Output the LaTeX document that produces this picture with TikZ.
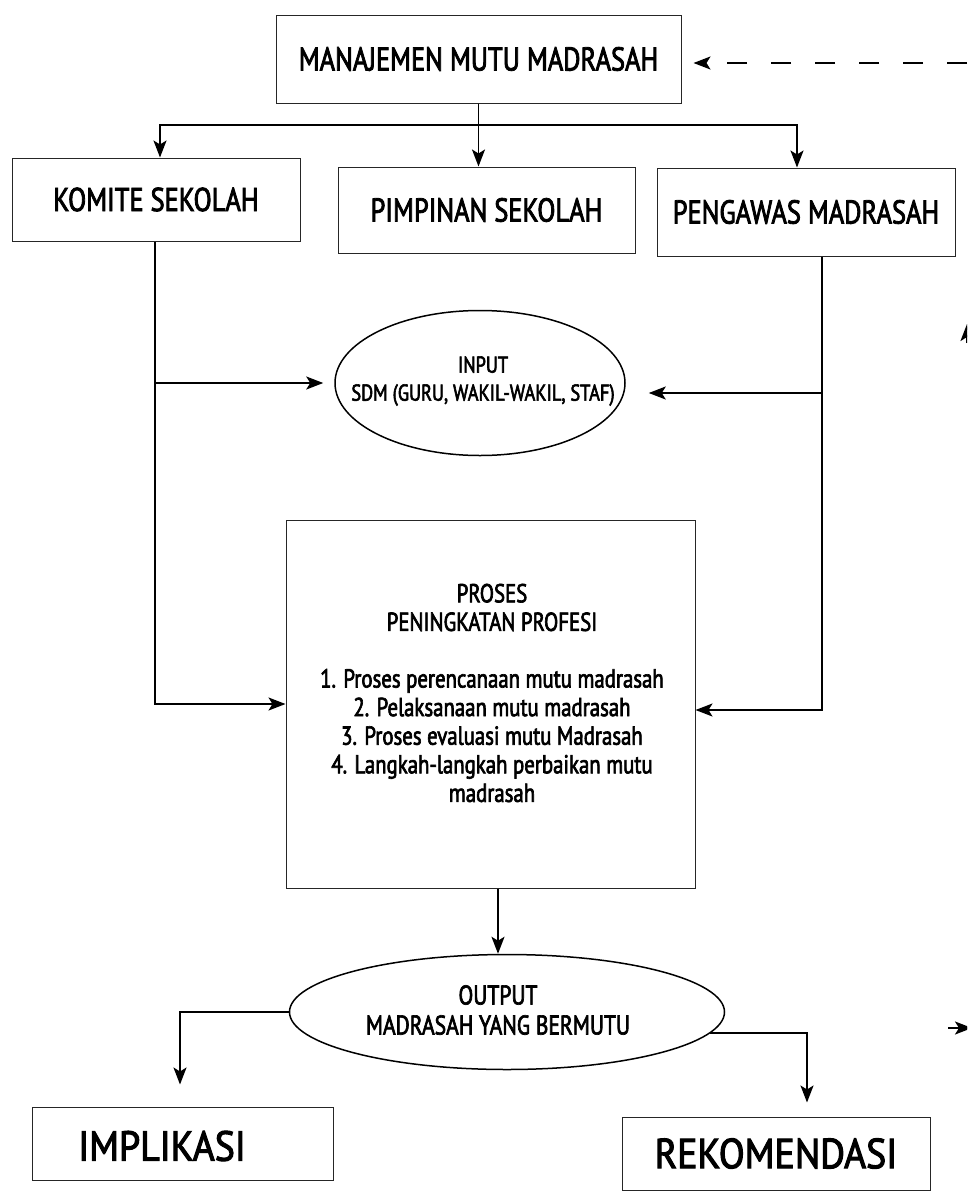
\documentclass[tikz,border=0pt]{standalone}
\usepackage{fontspec}
\setmainfont{PT Sans}
\newfontfamily\cf[FakeStretch=0.8,FakeBold=2.5]{PT Sans}
\newfontfamily\wf[FakeStretch=0.9,FakeBold=2.5]{PT Sans}
\usetikzlibrary{arrows.meta,shapes.geometric,calc}

\begin{document}
\begin{tikzpicture}[x=1pt,y=-1pt,
  box/.style={draw=black!85,line width=1pt,rectangle,inner sep=0pt},
  oval/.style={draw=black,line width=1.5pt,ellipse,inner sep=0pt},
  arr/.style={line width=1.9pt,-{Stealth[length=17pt,width=13pt,inset=4pt]}},
  big/.style={font=\cf\fontsize{33}{36}\selectfont},
  huge/.style={font=\wf\fontsize{42}{44}\selectfont},
]
\fill[white] (0,0) rectangle (967,1194);
\useasboundingbox (0,0) rectangle (967,1194);

% top level and the three bodies
\node[box,big,minimum width=405pt,minimum height=88pt] (mm) at (478.5,59) {MANAJEMEN MUTU MADRASAH};
\node[box,big,minimum width=288pt,minimum height=83pt] (kom) at (156,199.5) {KOMITE SEKOLAH};
\node[box,big,minimum width=297pt,minimum height=86pt] (pim) at (486.5,210) {PIMPINAN SEKOLAH};
\node[box,big,minimum width=298pt,minimum height=88pt] (pen) at (806,212) {PENGAWAS MADRASAH};

% input
\node[oval,minimum width=290pt,minimum height=145pt] (inp) at (480,383) {};
\node[align=center,font=\cf\fontsize{23}{28}\selectfont] (inpt) at (483,381) {INPUT\\SDM (GURU, WAKIL-WAKIL, STAF)};

% process
\node[box,minimum width=409pt,minimum height=368pt] (pro) at (490.5,704) {};
\node[align=center,font=\cf\fontsize{26}{28.6}\selectfont] (prot) at (492,693) {PROSES\\PENINGKATAN PROFESI\\[28pt]
1. Proses perencanaan mutu madrasah\\
2. Pelaksanaan mutu madrasah\\
3. Proses evaluasi mutu Madrasah\\
4. Langkah-langkah perbaikan mutu\\
madrasah};

% output
\node[oval,minimum width=435pt,minimum height=115pt] (out) at (507,1012) {};
\node[align=center,font=\cf\fontsize{27}{30}\selectfont] (outt) at (498,1010) {OUTPUT\\MADRASAH YANG BERMUTU};

% results
\node[box,minimum width=301pt,minimum height=73pt] (imp) at (182.5,1143.5) {};
\node[huge] (impt) at (162,1146) {IMPLIKASI};
\node[box,huge,minimum width=308pt,minimum height=73pt] (rek) at (776,1153.5) {REKOMENDASI};

% helper levels and connector ends
\coordinate (ylev) at (0,125);
\coordinate (kin) at ([xshift=4pt]kom.north);
\coordinate (pin) at ([xshift=-9pt]pen.north);
\coordinate (kout) at ([xshift=-1pt]kom.south);
\coordinate (pout) at ([xshift=16pt]pen.south);
\coordinate (ie) at ([yshift=-10pt]inp.east);
\coordinate (po) at ([xshift=7.5pt]pro.south);
\coordinate (fb) at (967,63);

% distribution from the top box
\draw[arr] (mm.south) |- (kin |- ylev) -- (kin);
\draw[arr] (mm.south) |- (pin |- ylev) -- (pin);
\draw[arr] (mm.south) -- (mm.south |- pim.north);

% left and right feeds
\draw[arr] (kout) |- (pro.west);
\draw[arr,shorten >=11pt] (kout |- inp.west) -- (inp.west);
\draw[arr] (pout) |- ([yshift=-6pt]pro.east);
\draw[arr,shorten >=23pt] (pout |- ie) -- (ie);

% process to output and results
\draw[arr] (po) -- (po |- out.north);
\draw[arr,shorten >=22pt] (out.west) -| ([xshift=-2.5pt]imp.north);
\draw[arr,shorten >=14pt] (out.-6) -| ([xshift=31pt]rek.north);

% feedback into the top box
\draw[arr,dash pattern=on 20pt off 24pt] (fb) -- ([xshift=12pt]mm.east |- fb);

% marks at the right edge
\begin{scope}
\clip (0,0) rectangle (967,1194);
\coordinate (m1a) at (967,343);
\coordinate (m1b) at (967,324);
\draw[arr] (m1a) -- (m1b);
\coordinate (m2a) at (948,1028);
\coordinate (m2b) at (972,1028);
\draw[arr] (m2a) -- (m2b);
\end{scope}
\end{tikzpicture}
\end{document}
